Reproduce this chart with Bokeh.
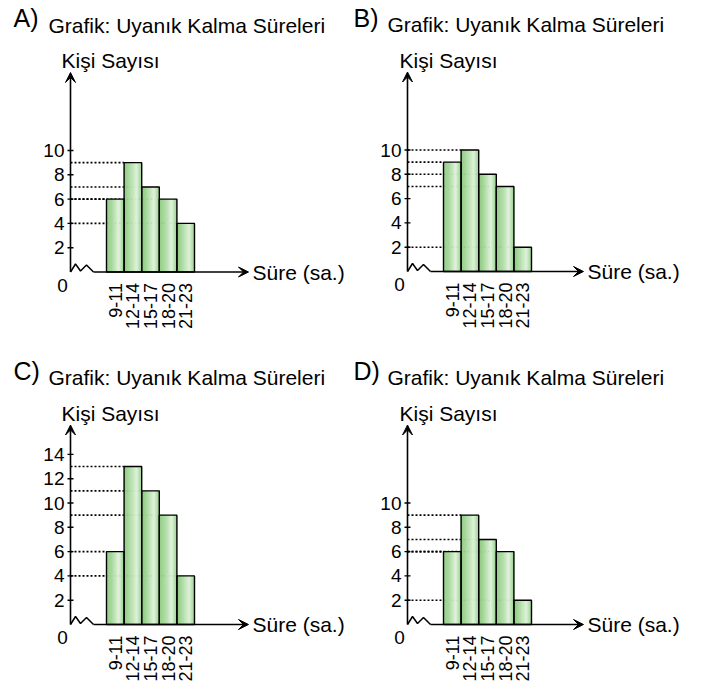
import numpy as np
from bokeh.plotting import figure
from bokeh.layouts import gridplot
from bokeh.models import Arrow, VeeHead
from bokeh.core.properties import value
from bokeh.embed import file_html
from bokeh.resources import INLINE

# ---- data ----
categories = ["9-11", "12-14", "15-17", "18-20", "21-23"]
values_A = [6, 9, 7, 6, 4]
values_B = [9, 10, 8, 7, 2]
values_C = [6, 13, 11, 9, 4]
values_D = [6, 9, 7, 6, 2]
ticks_A = [2, 4, 6, 8, 10]
ticks_B = [2, 4, 6, 8, 10]
ticks_C = [2, 4, 6, 8, 10, 12, 14]
ticks_D = [2, 4, 6, 8, 10]
letters = ["A)", "B)", "C)", "D)"]
title_text = "Grafik: Uyanık Kalma Süreleri"
y_label = "Kişi Sayısı"
x_label = "Süre (sa.)"

# ---- style ----
PX_X = 17.6   # px per bar
PX_Y = 12.15  # px per person
FONT = "'Liberation Sans', Arial, sans-serif"
STOPS = [(0.0, (0x8c, 0xc9, 0x80)), (0.3, (0xa6, 0xd7, 0x9b)),
         (0.72, (0xdf, 0xf2, 0xda)), (1.0, (0x98, 0xd1, 0x8d))]


def grad(t):
    for (t0, c0), (t1, c1) in zip(STOPS[:-1], STOPS[1:]):
        if t0 <= t <= t1:
            f = (t - t0) / (t1 - t0)
            c = [round(a + (b - a) * f) for a, b in zip(c0, c1)]
            return "#%02x%02x%02x" % tuple(c)
    return "#%02x%02x%02x" % STOPS[-1][1]


def panel(letter, vals, ticks, W, H, ox, oy, tip_px, d_letter, d_title, d_ylab):
    x0 = -0.5 - (ox + 36) / PX_X
    x1 = x0 + W / PX_X
    y1 = oy / PX_Y
    y0 = -(H - oy) / PX_Y
    p = figure(width=W, height=H, x_range=(x0, x1), y_range=(y0, y1),
               output_backend="svg", toolbar_location=None, tools="",
               x_axis_location=None, y_axis_location=None, min_border=0,
               outline_line_color=None, background_fill_color="white")
    p.xgrid.visible = False
    p.ygrid.visible = False
    ax = -0.5 - 36 / PX_X
    n = len(vals)
    idx = list(range(n))

    # dotted guide lines (behind bars)
    p.segment(x0=[ax] * n, y0=vals, x1=[i - 0.5 for i in idx], y1=vals,
              line_color="black", line_width=1.6, line_dash="2 2")

    # gradient bars
    N = 16
    L, R, T, C = [], [], [], []
    for i, v in zip(idx, vals):
        for k in range(N):
            L.append(i - 0.5 + k / N)
            R.append(i - 0.5 + (k + 1) / N)
            T.append(v)
            C.append(grad((k + 0.5) / N))
    p.quad(left=L, right=R, top=T, bottom=0, fill_color=C, line_color=C, line_width=0.6)
    p.quad(left=[i - 0.5 for i in idx], right=[i + 0.5 for i in idx], top=vals,
           bottom=0, fill_color=None, line_color="black", line_width=1.4)

    # axes
    head = dict(size=10, fill_color="black", line_color="black", line_width=1)
    p.add_layout(Arrow(x_start=ax, y_start=0, x_end=ax, y_end=199.5 / PX_Y,
                       line_width=1.6, line_color="black", end=VeeHead(**head)))
    zx = [0, 5, 10, 16, 23]
    zy = [0, 8, 1, 7, 0]
    p.line(x=[ax + d / PX_X for d in zx], y=[d / PX_Y for d in zy],
           line_color="black", line_width=1.5)
    tip = -0.5 + tip_px / PX_X
    p.add_layout(Arrow(x_start=ax + 23 / PX_X, y_start=0, x_end=tip, y_end=0,
                       line_width=1.6, line_color="black", end=VeeHead(**head)))

    # y ticks and labels
    p.scatter(x=[ax] * len(ticks), y=ticks, marker="dash", size=6,
              line_color="black", line_width=1.4)
    p.text(x=[ax] * len(ticks), y=ticks, text=[str(t) for t in ticks],
           x_offset=-6, text_align="right", text_baseline="middle",
           text_font=value(FONT), text_font_size="19px", text_color="black")
    p.text(x=[ax], y=[0], text=["0"], x_offset=-8, y_offset=13,
           text_align="center", text_baseline="middle",
           text_font=value(FONT), text_font_size="19px", text_color="black")

    # category labels (rotated)
    p.text(x=idx, y=[-11 / PX_Y] * n, text=categories, angle=np.pi / 2,
           text_align="right", text_baseline="middle",
           text_font=value(FONT), text_font_size="18px", text_color="black")

    # texts
    p.text(x=[ax], y=[254 / PX_Y], text=[letter], x_offset=-d_letter,
           text_align="left", text_baseline="middle",
           text_font=value(FONT), text_font_size="25px", text_color="black")
    p.text(x=[ax], y=[247 / PX_Y], text=[title_text], x_offset=-d_title,
           text_align="left", text_baseline="middle",
           text_font=value(FONT), text_font_size="21px", text_color="black")
    p.text(x=[ax], y=[211.5 / PX_Y], text=[y_label], x_offset=-d_ylab,
           text_align="left", text_baseline="middle",
           text_font=value(FONT), text_font_size="21px", text_color="black")
    p.text(x=[tip], y=[0], text=[x_label], x_offset=4,
           text_align="left", text_baseline="middle",
           text_font=value(FONT), text_font_size="21px", text_color="black")
    return p


pA = panel(letters[0], values_A, ticks_A, 351, 344, 70, 271.5, 142, 57, 22, 9)
pB = panel(letters[1], values_B, ticks_B, 351, 344, 56, 271, 140, 54, 20, 8)
pC = panel(letters[2], values_C, ticks_C, 351, 345, 70, 280, 142, 57, 22, 9)
pD = panel(letters[3], values_D, ticks_D, 351, 345, 56, 280, 140, 54, 20, 8)

grid = gridplot([[pA, pB], [pC, pD]], toolbar_location=None)
open("out.html", "w").write(file_html(grid, INLINE))
